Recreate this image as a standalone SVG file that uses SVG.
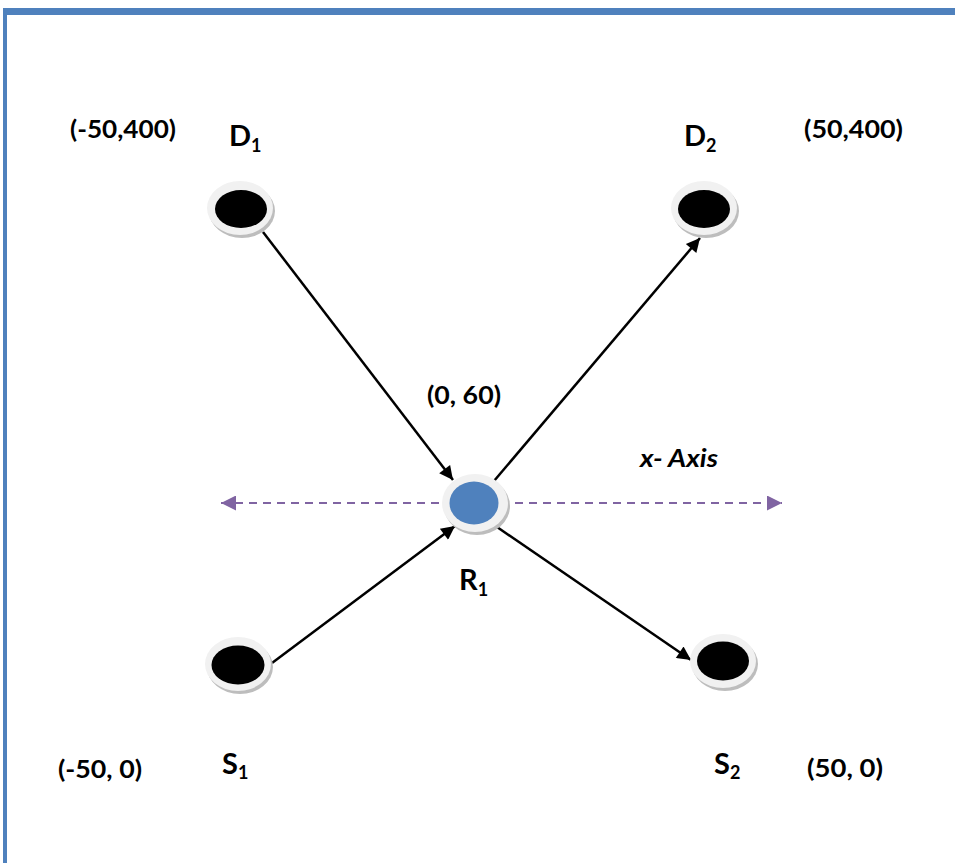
<svg xmlns="http://www.w3.org/2000/svg" width="955" height="863" viewBox="0 0 955 863">
<defs>
<style>
.lbl{font-family:Lato,"Liberation Sans",sans-serif;font-weight:bold;fill:#000}
.coord{font-size:24px}
.name{font-size:29px}
.sub{font-size:18px}
.link{stroke:#000;stroke-width:2.5;fill:none;marker-end:url(#ah)}
.axis{stroke:#8064A2;stroke-width:2;stroke-dasharray:8 6;fill:none;marker-start:url(#ap);marker-end:url(#ap)}
.shadow{fill:#BDBDBD}
.ring{fill:#F1F1F1}
.core{fill:#000}
.blue{fill:#4F81BD}
</style>
<marker id="ah" viewBox="0 0 10 10" refX="10" refY="5" markerWidth="6.5" markerHeight="5.5" markerUnits="strokeWidth" orient="auto">
<path d="M0,0 L10,5 L0,10 z" fill="#000"/>
</marker>
<marker id="ap" viewBox="0 0 10 10" refX="10" refY="5" markerWidth="8" markerHeight="7.5" markerUnits="strokeWidth" orient="auto-start-reverse">
<path d="M0,0 L10,5 L0,10 z" fill="#8064A2"/>
</marker>
</defs>
<rect width="955" height="863" fill="#fff"/>
<g id="border">
<line x1="3" y1="11.5" x2="955" y2="11.5" stroke="#4F81BD" stroke-width="7"/>
<line x1="5" y1="8" x2="5" y2="863" stroke="#4F81BD" stroke-width="4"/>
</g>
<g id="connectors">
<line class="axis" x1="221" y1="503" x2="782" y2="503"/>
<line class="link" x1="263" y1="232" x2="453" y2="480"/>
<line class="link" x1="272" y1="663" x2="455" y2="526"/>
<line class="link" x1="494" y1="481" x2="700" y2="238"/>
<line class="link" x1="497" y1="527" x2="691" y2="660"/>
</g>
<g id="D1">
<ellipse class="shadow" cx="242" cy="211" rx="33" ry="27"/>
<ellipse class="ring" cx="240" cy="208" rx="33" ry="27"/>
<ellipse class="core" cx="241" cy="209" rx="26" ry="19"/>
<text class="lbl name" x="229" y="146">D<tspan class="sub" dy="6">1</tspan></text>
<text class="lbl coord" x="70" y="138" textLength="106" lengthAdjust="spacingAndGlyphs">(-50,400)</text>
</g>
<g id="D2">
<ellipse class="shadow" cx="706" cy="211" rx="33" ry="27"/>
<ellipse class="ring" cx="704" cy="208" rx="33" ry="27"/>
<ellipse class="core" cx="704" cy="209" rx="26" ry="19"/>
<text class="lbl name" x="684" y="146">D<tspan class="sub" dy="6">2</tspan></text>
<text class="lbl coord" x="804" y="138" textLength="99" lengthAdjust="spacingAndGlyphs">(50,400)</text>
</g>
<g id="R1">
<ellipse class="shadow" cx="477" cy="506" rx="33" ry="29"/>
<ellipse class="ring" cx="475" cy="503" rx="33" ry="29"/>
<ellipse class="blue" cx="474" cy="503" rx="24.5" ry="21.5"/>
<text class="lbl name" x="459" y="590">R<tspan class="sub" dy="6">1</tspan></text>
<text class="lbl coord" x="427" y="404" textLength="74" lengthAdjust="spacingAndGlyphs">(0, 60)</text>
</g>
<g id="S1">
<ellipse class="shadow" cx="240" cy="667" rx="33" ry="27"/>
<ellipse class="ring" cx="238" cy="664" rx="33" ry="27"/>
<ellipse class="core" cx="238" cy="665" rx="26.5" ry="19.5"/>
<text class="lbl name" x="222" y="774">S<tspan class="sub" dy="5">1</tspan></text>
<text class="lbl coord" x="58" y="778" textLength="84" lengthAdjust="spacingAndGlyphs">(-50, 0)</text>
</g>
<g id="S2">
<ellipse class="shadow" cx="725" cy="664" rx="33" ry="27"/>
<ellipse class="ring" cx="723" cy="661" rx="33" ry="27"/>
<ellipse class="core" cx="723" cy="661" rx="26" ry="19.5"/>
<text class="lbl name" x="714" y="774">S<tspan class="sub" dy="5">2</tspan></text>
<text class="lbl coord" x="807" y="777" textLength="76" lengthAdjust="spacingAndGlyphs">(50, 0)</text>
</g>
<g id="axis-label">
<text class="lbl coord" x="640" y="467" font-style="italic" textLength="78" lengthAdjust="spacingAndGlyphs">x- Axis</text>
</g>
</svg>
